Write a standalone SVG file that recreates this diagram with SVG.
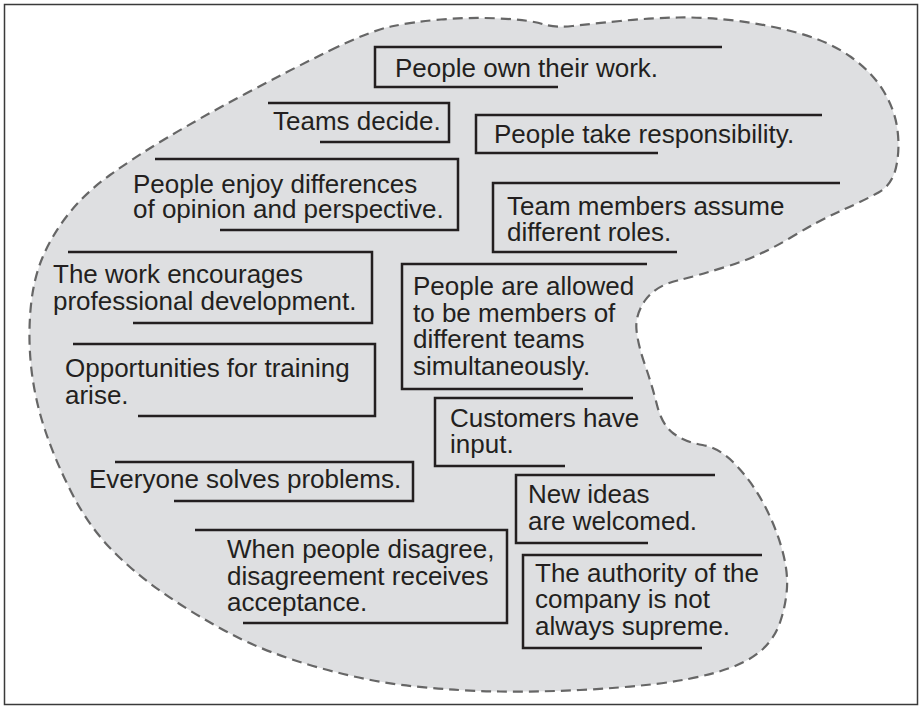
<svg xmlns="http://www.w3.org/2000/svg" width="922" height="709" viewBox="0 0 922 709">
<style>
.frame{fill:#fff;stroke:#3a3a3a;stroke-width:1.5}
.blob{fill:#dedfe1;stroke:#666;stroke-width:2.2;stroke-dasharray:10 6}
.br{fill:none;stroke:#231f20;stroke-width:2.5;stroke-linejoin:miter}
.t{font-family:"Liberation Sans",Arial,sans-serif;font-size:26px;fill:#231f20}
</style>
<rect class="frame" x="4.5" y="4.5" width="913" height="700"/>
<path class="blob" d="M330,50.5 Q370,31 391,26.5 Q412,22 441,19.5 Q470,17 500,18.5 Q530,20 542.5,24 Q555,28 572.5,26 Q590,24 620,21 Q650,18 678,17.5 Q706,17 738,21 Q770,25 800,33.5 Q830,42 851,57 Q872,72 883.5,91 Q895,110 897.5,130 Q900,150 896,167.5 Q892,185 878.5,192.5 Q865,200 842.5,210 Q820,220 790,238 Q760,256 730,265.5 Q700,275 677.5,280.5 Q655,286 645,300.5 Q635,315 636.5,330 Q638,345 645,365 Q652,385 657,405 Q662,425 673.5,433.5 Q685,442 702.5,445 Q720,448 736,465 Q752,482 763.5,503.5 Q775,525 781.5,547.5 Q788,570 787,587.5 Q786,605 780,622.5 Q774,640 759.5,652 Q745,664 717.5,672 Q690,680 655,684 Q620,688 580,690 Q540,692 500,691.5 Q460,691 415,686.5 Q370,682 318.5,667.5 Q267,653 231,634 Q195,615 164,593.5 Q133,572 110.5,548.5 Q88,525 71.5,492.5 Q55,460 45,430 Q35,400 31.5,370 Q28,340 30.5,310 Q33,280 42.5,257.5 Q52,235 68.5,214 Q85,193 110,175 Q135,157 167.5,137.5 Q200,118 245,94 Q290,70 330,50.5 Z"/>
<g id="connectors"/>
<g id="n1"><polyline class="br" points="722,47 375,47 375,87 558,87"/><text class="t" x="395" y="77">People own their work.</text></g>
<g id="n2"><polyline class="br" points="268,103 449,103 449,142 320,142"/><text class="t" x="273" y="130">Teams decide.</text></g>
<g id="n3"><polyline class="br" points="822,115 476,115 476,153 658,153"/><text class="t" x="494" y="143">People take responsibility.</text></g>
<g id="n4"><polyline class="br" points="840,183 493,183 493,252 677,252"/><text class="t" x="507" y="215">Team members assume</text><text class="t" x="507" y="241">different roles.</text></g>
<g id="n5"><polyline class="br" points="155,159 458,159 458,230 220,230"/><text class="t" x="133" y="193">People enjoy differences</text><text class="t" x="133" y="218">of opinion and perspective.</text></g>
<g id="n6"><polyline class="br" points="68,252 372,252 372,323 133,323"/><text class="t" x="53" y="283">The work encourages</text><text class="t" x="53" y="310">professional development.</text></g>
<g id="n7"><polyline class="br" points="73,344 375,344 375,416 138,416"/><text class="t" x="65" y="377">Opportunities for training</text><text class="t" x="65" y="404">arise.</text></g>
<g id="n8"><polyline class="br" points="647,264 402,264 402,389 583,389"/><text class="t" x="413" y="295">People are allowed</text><text class="t" x="413" y="322">to be members of</text><text class="t" x="413" y="348">different teams</text><text class="t" x="413" y="375">simultaneously.</text></g>
<g id="n9"><polyline class="br" points="633,398 435,398 435,466 565,466"/><text class="t" x="450" y="427">Customers have</text><text class="t" x="450" y="453">input.</text></g>
<g id="n10"><polyline class="br" points="115,462 413,462 413,501 174,501"/><text class="t" x="89" y="488">Everyone solves problems.</text></g>
<g id="n11"><polyline class="br" points="195,530 507,530 507,623 243,623"/><text class="t" x="227" y="558">When people disagree,</text><text class="t" x="227" y="585">disagreement receives</text><text class="t" x="227" y="611">acceptance.</text></g>
<g id="n12"><polyline class="br" points="715,475 516,475 516,543 648,543"/><text class="t" x="528" y="503">New ideas</text><text class="t" x="528" y="530">are welcomed.</text></g>
<g id="n13"><polyline class="br" points="762,555 523,555 523,648 702,648"/><text class="t" x="535" y="582">The authority of the</text><text class="t" x="535" y="608">company is not</text><text class="t" x="535" y="635">always supreme.</text></g>
</svg>
